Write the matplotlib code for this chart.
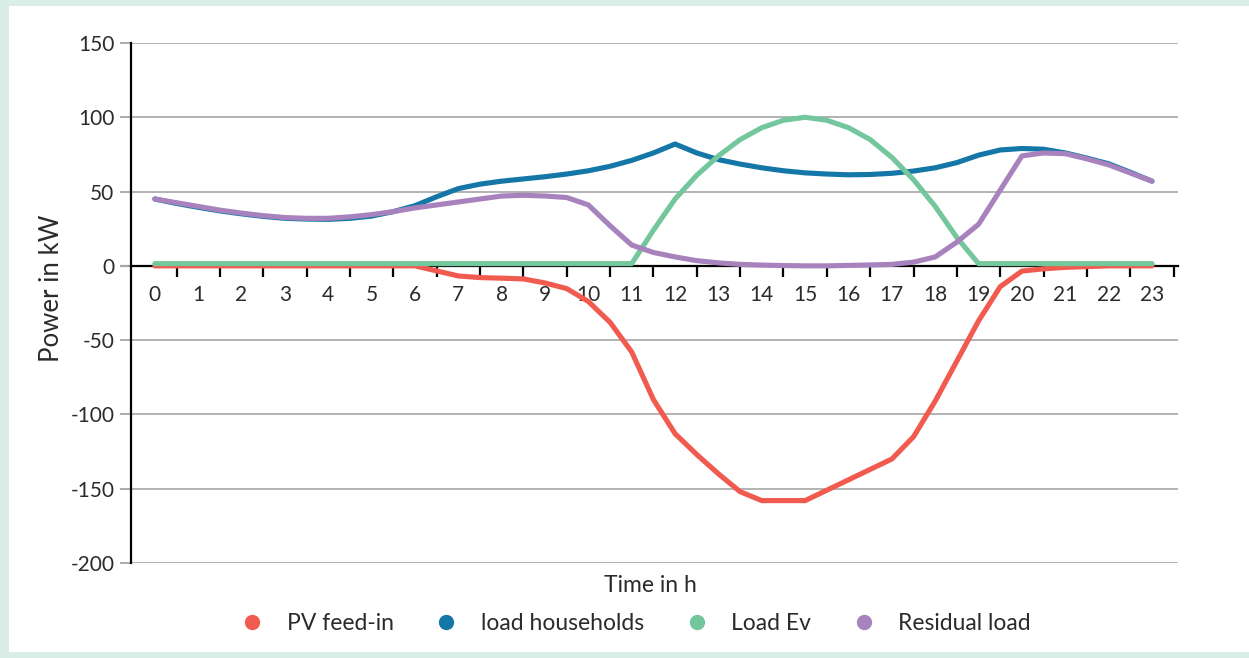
import matplotlib.pyplot as plt
import numpy as np
from matplotlib.lines import Line2D
from matplotlib.patches import Rectangle

plt.rcParams["font.family"] = ["Lato", "DejaVu Sans"]

# half-hour steps, 0 h .. 23 h
hours = np.arange(0, 23.5, 0.5)

pv_feed_in = [
    0, 0, 0, 0, 0, 0, 0, 0, 0, 0, 0, 0,
    0, -3.4, -6.8, -7.9, -8.3, -8.8, -11.5, -15.3, -24, -38,
    -58, -90, -113, -127, -140, -152, -158, -158, -158, -151,
    -144, -137, -130, -115, -91, -64, -37, -14, -3.5, -2,
    -1, -0.5, 0, 0, 0,
]
load_households = [
    45, 42, 39.4, 37, 35, 33.3, 32, 31.5, 31.3, 32, 33.5, 36.5,
    40.5, 46.5, 52, 55, 57, 58.5, 60, 61.8, 64, 67,
    71, 76, 82, 76, 71.5, 68.5, 66, 64, 62.6, 61.8,
    61.3, 61.5, 62.3, 63.8, 66, 69.5, 74.5, 78, 79, 78.5,
    76, 72.5, 68.7, 63, 57,
]
load_ev = [
    1.5, 1.5, 1.5, 1.5, 1.5, 1.5, 1.5, 1.5, 1.5, 1.5, 1.5, 1.5,
    1.5, 1.5, 1.5, 1.5, 1.5, 1.5, 1.5, 1.5, 1.5, 1.5,
    1.5, 24, 45, 61, 74, 85, 93, 98, 100, 98,
    93, 85, 73, 58, 40, 19, 1.5, 1.5, 1.5, 1.5,
    1.5, 1.5, 1.5, 1.5, 1.5,
]
residual_load = [
    45, 42.5, 40, 37.5, 35.5, 33.8, 32.5, 32, 32, 33, 34.5, 36.5,
    39, 41, 43, 45, 47, 47.5, 47, 46, 41, 27,
    14, 9, 6, 3.5, 2, 1, 0.5, 0.2, 0, 0,
    0.3, 0.6, 1, 2.5, 6, 16, 28, 51, 74, 76,
    75.5, 72, 68, 62.5, 57,
]

series_names = ["PV feed-in", "load households", "Load Ev", "Residual load"]
colors = ["#F15A4F", "#1577A7", "#74C79D", "#A782BD"]

y_ticks = [-200, -150, -100, -50, 0, 50, 100, 150]
x_ticks = list(range(24))

fig = plt.figure(figsize=(12.49, 6.58), dpi=100, facecolor="#D8EEE6")
fig.patches.append(Rectangle((9 / 1249, 6 / 658), 1, 646 / 658,
                             transform=fig.transFigure, facecolor="white",
                             edgecolor="none", zorder=-5))
ax = fig.add_axes([131 / 1249, 1 - 563 / 658, 1047 / 1249, 520 / 658])
ax.set_facecolor("none")
ax.set_zorder(2)

series = [pv_feed_in, load_households, residual_load, load_ev]
order = [0, 1, 3, 2]
for vals, idx in zip(series, order):
    ax.plot(hours, vals, color=colors[idx], lw=3.7, solid_capstyle="round",
            solid_joinstyle="round", zorder=3 + idx)

ax.set_xlim(-0.55, 23.6)
ax.set_ylim(-200, 150)

for s in ["top", "right"]:
    ax.spines[s].set_visible(False)
ax.spines["left"].set_linewidth(1.6)
ax.spines["left"].set_color("black")
ax.spines["bottom"].set_position(("data", 0))
ax.spines["bottom"].set_linewidth(1.6)
ax.spines["bottom"].set_color("black")
ax.spines["bottom"].set_zorder(2.5)

ax.set_yticks(y_ticks)
ax.set_yticklabels([str(v) for v in y_ticks])
ax.tick_params(axis="y", length=8, width=1.3, color="#A6A6A6", pad=4,
               labelsize=15, labelcolor="#2B2B2B")
for t, v in zip(ax.yaxis.get_major_ticks(), y_ticks):
    if v == 0:
        t.tick1line.set_color("black")
        t.tick1line.set_markeredgewidth(1.6)

ax.set_xticks(x_ticks)
ax.set_xticklabels([str(v) for v in x_ticks])
ax.set_xticks([h + 0.5 for h in x_ticks], minor=True)
ax.tick_params(axis="x", which="major", length=0, pad=14, labelsize=15,
               labelcolor="#2B2B2B")
ax.tick_params(axis="x", which="minor", length=8, width=1.6, color="black",
               direction="out")

ax.grid(axis="y", color="#A6A6A6", lw=1.2, zorder=1)
ax.set_axisbelow(True)

fig.text(52 / 1249, 1 - 288 / 658, "Power in kW", rotation=90, ha="center",
         va="center", fontsize=18.5, color="#2B2B2B")
fig.text(650 / 1249, 1 - 585 / 658, "Time in h", ha="center", va="center",
         fontsize=16.5, color="#2B2B2B")

handles = [Line2D([], [], ls="none", marker="o", markersize=10,
                  markerfacecolor=c, markeredgecolor=c) for c in colors]
fig.legend(handles, series_names, loc="center", ncol=4, frameon=False,
           bbox_to_anchor=(630 / 1249, 1 - 624 / 658), fontsize=16.5,
           handletextpad=0.5, columnspacing=1.3, labelcolor="#2B2B2B")

fig.savefig("out.png", dpi=100, facecolor=fig.get_facecolor())
